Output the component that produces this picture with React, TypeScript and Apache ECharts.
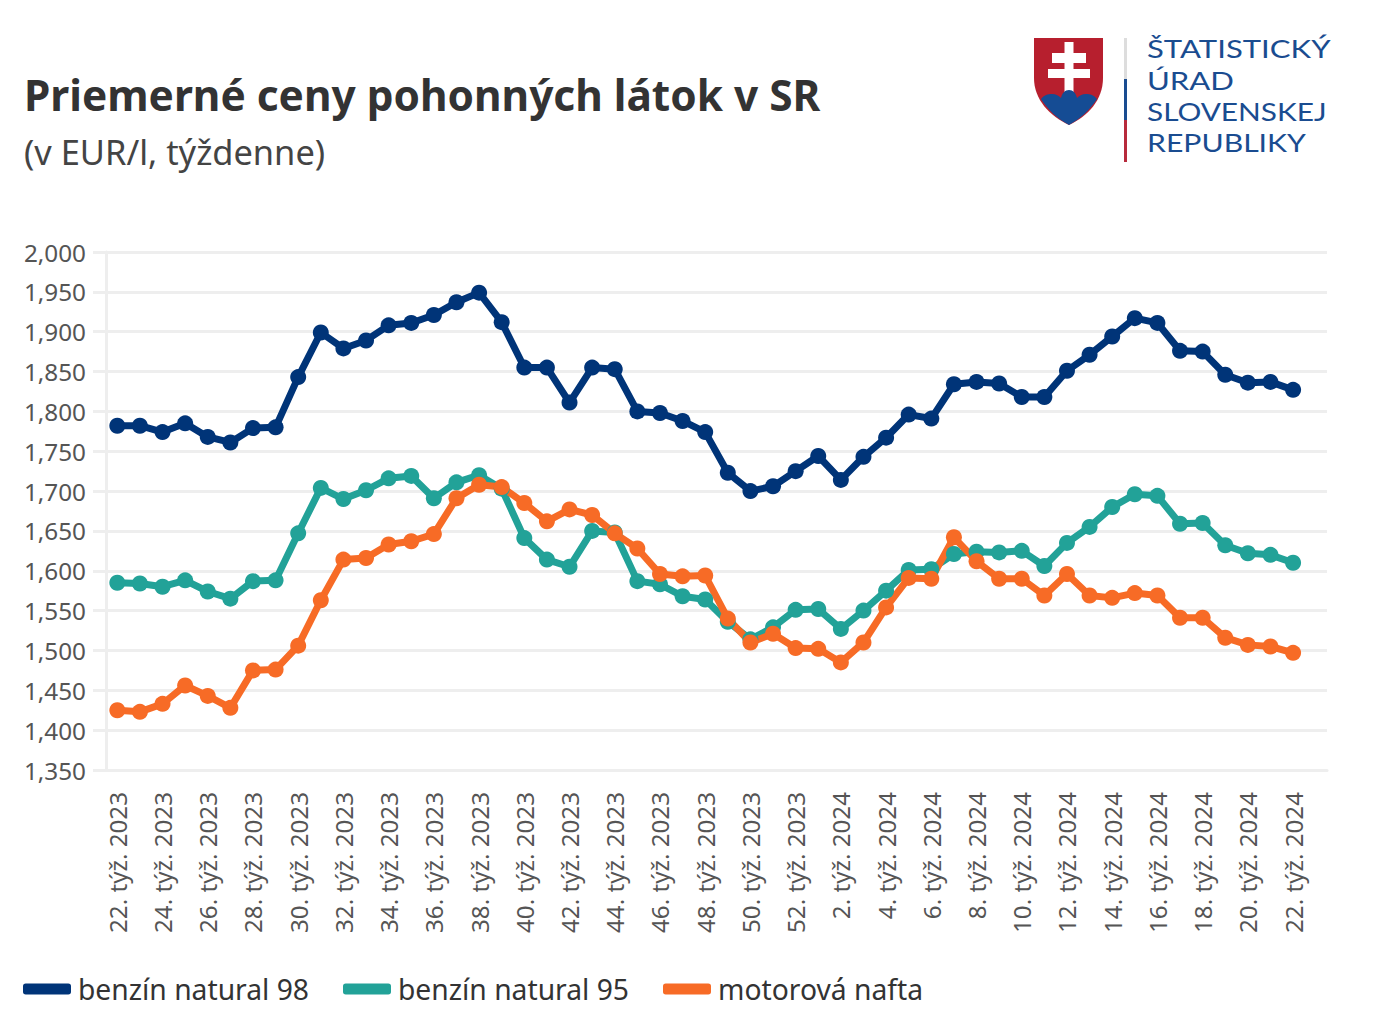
import React, { useEffect, useRef } from "react";
import * as echarts from "echarts";

const categories = [
  "22. týž. 2023","23. týž. 2023","24. týž. 2023","25. týž. 2023","26. týž. 2023","27. týž. 2023","28. týž. 2023","29. týž. 2023",
  "30. týž. 2023","31. týž. 2023","32. týž. 2023","33. týž. 2023","34. týž. 2023","35. týž. 2023","36. týž. 2023","37. týž. 2023",
  "38. týž. 2023","39. týž. 2023","40. týž. 2023","41. týž. 2023","42. týž. 2023","43. týž. 2023","44. týž. 2023","45. týž. 2023",
  "46. týž. 2023","47. týž. 2023","48. týž. 2023","49. týž. 2023","50. týž. 2023","51. týž. 2023","52. týž. 2023",
  "1. týž. 2024","2. týž. 2024","3. týž. 2024","4. týž. 2024","5. týž. 2024","6. týž. 2024","7. týž. 2024","8. týž. 2024",
  "9. týž. 2024","10. týž. 2024","11. týž. 2024","12. týž. 2024","13. týž. 2024","14. týž. 2024","15. týž. 2024","16. týž. 2024",
  "17. týž. 2024","18. týž. 2024","19. týž. 2024","20. týž. 2024","21. týž. 2024","22. týž. 2024","",
];

const natural98 = [
  1.782,1.782,1.774,1.785,1.768,1.761,1.779,1.78,1.843,1.899,1.879,1.889,1.908,1.911,
  1.921,1.937,1.949,1.912,1.855,1.855,1.811,1.855,1.853,1.8,1.798,1.788,1.774,
  1.723,1.7,1.706,1.725,1.744,1.714,1.743,1.767,1.796,1.791,1.834,1.837,1.835,
  1.818,1.818,1.851,1.871,1.894,1.917,1.911,1.876,1.875,1.846,1.836,1.837,1.827,
];
const natural95 = [
  1.585,1.584,1.58,1.588,1.574,1.565,1.587,1.588,1.647,1.704,1.69,1.701,1.716,1.719,
  1.691,1.711,1.72,1.703,1.641,1.614,1.605,1.65,1.648,1.587,1.583,1.568,1.564,
  1.536,1.514,1.529,1.551,1.552,1.527,1.55,1.575,1.601,1.602,1.621,1.624,1.623,
  1.625,1.606,1.635,1.655,1.68,1.696,1.694,1.659,1.66,1.632,1.622,1.62,1.61,
];
const nafta = [
  1.425,1.423,1.433,1.456,1.443,1.428,1.475,1.476,1.506,1.563,1.614,1.616,1.633,1.637,
  1.646,1.691,1.708,1.705,1.685,1.662,1.677,1.67,1.647,1.628,1.596,1.593,1.594,
  1.54,1.51,1.521,1.503,1.502,1.485,1.51,1.554,1.591,1.59,1.642,1.612,1.59,
  1.59,1.569,1.596,1.569,1.566,1.572,1.569,1.541,1.541,1.516,1.507,1.505,1.497,
];
const seriesNames = ["benzín natural 98", "benzín natural 95", "motorová nafta"];
const seriesColors = ["#003478", "#22a298", "#f76b26"];
const logoLines = ["ŠTATISTICKÝ", "ÚRAD", "SLOVENSKEJ", "REPUBLIKY"];

const FONT = "'Noto Sans', sans-serif";

echarts.graphic.registerShape(
  "shieldBody",
  echarts.graphic.extendPath("M1034 38 H1103 V78 C1103 100 1088 116 1069 125 C1050 116 1034 100 1034 78 Z", {})
);
echarts.graphic.registerShape(
  "shieldHills",
  echarts.graphic.extendPath(
    "M1041 99 C1044 95 1048 94 1052 94 C1056 94 1059 96 1061 98 C1062 93 1065 90 1069 90 C1073 90 1076 93 1077 98 C1079 96 1082 94 1086 94 C1090 94 1094 95 1097 99 C1090 110 1080 119 1069 125 C1058 119 1048 110 1041 99 Z",
    {}
  )
);

export default function App() {
  const ref = useRef<HTMLDivElement>(null);
  useEffect(() => {
    const chart = echarts.init(ref.current!, null, { renderer: "svg" });
    const seriesData = [natural98, natural95, nafta];
    chart.setOption({
      animation: false,
      backgroundColor: "#ffffff",
      title: {
        text: "Priemerné ceny pohonných látok v SR",
        subtext: "(v EUR/l, týždenne)",
        left: 24,
        top: 67,
        padding: 0,
        itemGap: 9,
        textStyle: { fontFamily: FONT, fontSize: 42.4, fontWeight: 700, color: "#333333", lineHeight: 54 },
        subtextStyle: { fontFamily: FONT, fontSize: 34.4, fontWeight: 400, color: "#444444", lineHeight: 42 },
      },
      legend: {
        left: 23,
        top: 975,
        padding: 0,
        icon: "roundRect",
        itemWidth: 48,
        itemHeight: 11,
        itemGap: 34,
        textStyle: { fontFamily: FONT, fontSize: 28.25, color: "#333333", padding: [0, 0, 0, 2] },
        data: seriesNames,
      },
      grid: { left: 106, right: 47, top: 252, bottom: 258, containLabel: false },
      xAxis: {
        type: "category",
        data: categories,
        boundaryGap: true,
        axisLine: { lineStyle: { color: "#eeeeee", width: 3 } },
        axisTick: { alignWithLabel: true, interval: 0, length: 14, lineStyle: { color: "#eeeeee", width: 3 } },
        axisLabel: { interval: 1, rotate: 90, margin: 22, fontFamily: FONT, fontSize: 24.2, color: "#555555" },
        splitLine: { show: false },
      },
      yAxis: {
        type: "value",
        min: 1.35,
        max: 2,
        interval: 0.05,
        axisLine: { show: true, lineStyle: { color: "#eeeeee", width: 3 } },
        axisTick: { show: true, length: 13, lineStyle: { color: "#eeeeee", width: 3 } },
        axisLabel: {
          margin: 20,
          fontFamily: FONT,
          fontSize: 24.3,
          color: "#555555",
          formatter: (v: number) => v.toFixed(3).replace(".", ","),
        },
        splitLine: { lineStyle: { color: "#eeeeee", width: 3 } },
      },
      series: seriesNames.map((name, i) => ({
        name,
        type: "line",
        data: seriesData[i],
        symbol: "circle",
        symbolSize: 16,
        showSymbol: true,
        showAllSymbol: true,
        lineStyle: { color: seriesColors[i], width: 7 },
        itemStyle: { color: seriesColors[i] },
      })),
      graphic: [
        { type: "shieldBody", x: 0, y: 0, style: { fill: "#b71f2e" } },
        { type: "rect", shape: { x: 1064.5, y: 42, width: 9, height: 50 }, style: { fill: "#ffffff" } },
        { type: "rect", shape: { x: 1052, y: 53, width: 34, height: 10 }, style: { fill: "#ffffff" } },
        { type: "rect", shape: { x: 1048, y: 69, width: 42, height: 9 }, style: { fill: "#ffffff" } },
        { type: "shieldHills", x: 0, y: 0, style: { fill: "#154c94" } },
        { type: "rect", shape: { x: 1124, y: 38, width: 3, height: 41 }, style: { fill: "#dddddd" } },
        { type: "rect", shape: { x: 1124, y: 79, width: 3, height: 41 }, style: { fill: "#1a4c90" } },
        { type: "rect", shape: { x: 1124, y: 120, width: 3, height: 42 }, style: { fill: "#b72a3c" } },
        ...logoLines.map((t, i) => ({
          type: "text",
          x: 1147,
          y: [48, 80, 111, 142][i],
          scaleX: [1.205, 1.205, 1.155, 1.17][i],
          style: { text: t, fontFamily: "Lato, sans-serif", fontSize: 25.8, fill: "#1a4c90", verticalAlign: "middle" },
        })),
      ],
    });
    return () => chart.dispose();
  }, []);
  return <div ref={ref} style={{ position: "fixed", left: 0, top: 0, width: 1374, height: 1028 }} />;
}
